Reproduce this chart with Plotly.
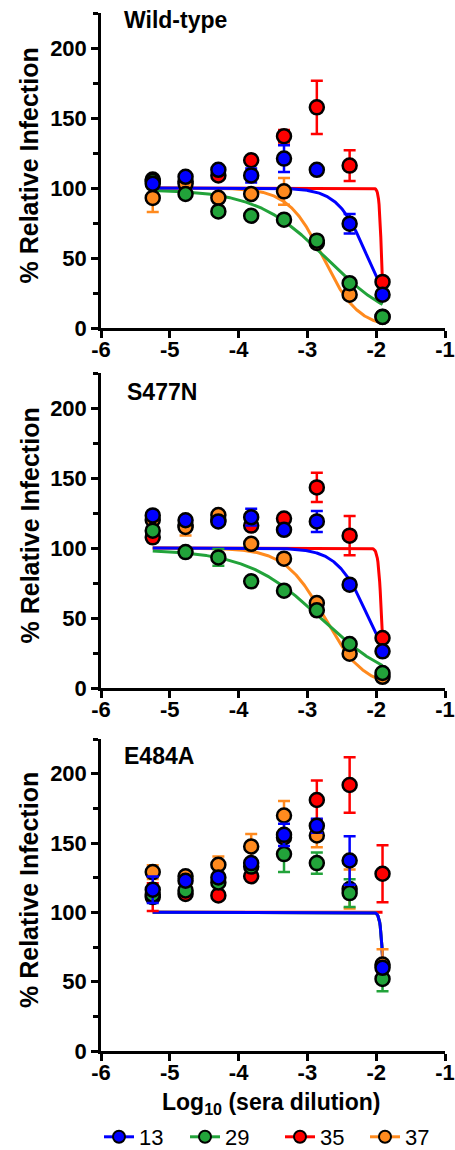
import numpy as np
import plotly.graph_objects as go

# ---------------- data ----------------
log_dilution = [-5.248, -4.771, -4.294, -3.817, -3.340, -2.863, -2.386, -1.908]
sera = ["13", "29", "35", "37"]
colors = {"13": "#0000ff", "29": "#22a33a", "35": "#ff0000", "37": "#ff8a1e"}
panels = ["Wild-type", "S477N", "E484A"]

# mean % relative infection per panel / serum
wt_13 = [103, 108, 113, 109, 121, 113, 74.5, 23.8]
wt_29 = [105, 95.7, 83.3, 80.2, 77.4, 62.4, 32, 7.9]
wt_35 = [106, 104.8, 109, 119.8, 137, 157.6, 116, 32.9]
wt_37 = [92.9, 103, 93, 95.7, 97.6, 60.7, 23.8, 8]
wt_13_err = [2, 2, 2, 5, 9.5, 2, 7, 2]
wt_29_err = [2, 2, 2, 2, 2, 2, 2, 2]
wt_35_err = [2, 2, 2, 2, 4.5, 19, 11, 2]
wt_37_err = [10, 2, 2, 2, 9.5, 2, 2, 2]

s477n_13 = [123.3, 119.8, 119, 122, 113, 119, 73.8, 26.2]
s477n_29 = [112.4, 97.1, 93.3, 76.2, 69.5, 55.5, 31.4, 10.7]
s477n_35 = [107.6, 116.2, 120, 116, 121, 143.3, 108.8, 35.7]
s477n_37 = [120, 115, 123.6, 103, 92.4, 60.7, 24.5, 8]
s477n_13_err = [2, 2, 2, 6, 2, 7.5, 3, 2]
s477n_29_err = [2, 2, 6, 2, 2, 2, 2, 2]
s477n_35_err = [2, 2, 2, 2, 2, 10.5, 14, 2]
s477n_37_err = [2, 6, 2, 2, 2, 2, 2, 2]

e484a_13 = [116.3, 122.8, 125.2, 135.5, 155.9, 162.4, 137.4, 60]
e484a_29 = [112.7, 115.8, 121.6, 133, 142, 135.5, 113.9, 52]
e484a_35 = [111, 113.2, 112.2, 126, 154, 181, 191.8, 127.8]
e484a_37 = [129, 126, 134.3, 147.5, 169.8, 155.4, 116.8, 62.4]
e484a_13_err = [9.6, 2, 2, 2, 8, 5, 17.5, 2]
e484a_29_err = [2, 2, 2, 2, 13, 7.7, 10, 9]
e484a_35_err = [10, 2, 2, 2, 2, 14, 20, 20.5]
e484a_37_err = [5, 2, 6, 9, 10.5, 8.5, 14, 11]

# fitted dose-response curve parameters (top, bottom, logIC50, hill)
wt_fit = {"13": (100, 0, -2.12, 2.0), "29": (99, 0, -2.72, 0.85),
          "35": (100, 0, -1.922, 24), "37": (100, 0, -2.77, 1.7)}
s477n_fit = {"13": (100, 0, -2.11, 1.9), "29": (99, 0, -2.80, 0.8),
             "35": (100, 0, -1.922, 18), "37": (100, 0, -2.75, 1.5)}
e484a_fit = {"13": (100, 0, -1.891, 19), "29": (100, 0, -1.891, 19),
             "35": (100, 100, -1.891, 19), "37": (100, 0, -1.891, 19)}

values = [
    {"13": wt_13, "29": wt_29, "35": wt_35, "37": wt_37},
    {"13": s477n_13, "29": s477n_29, "35": s477n_35, "37": s477n_37},
    {"13": e484a_13, "29": e484a_29, "35": e484a_35, "37": e484a_37},
]
errors = [
    {"13": wt_13_err, "29": wt_29_err, "35": wt_35_err, "37": wt_37_err},
    {"13": s477n_13_err, "29": s477n_29_err, "35": s477n_35_err, "37": s477n_37_err},
    {"13": e484a_13_err, "29": e484a_29_err, "35": e484a_35_err, "37": e484a_37_err},
]
fits = [wt_fit, s477n_fit, e484a_fit]

# ---------------- layout geometry ----------------
W, H = 455, 1150
plot_left, plot_right = 101, 445
panel_px = [(13, 328), (373, 688), (739, 1051)]  # (top, bottom) in px
title_px = [(122, 20), (125, 392), (122, 756)]
legend_px = [99, 185, 280, 365]
FONT = "Liberation Sans, Arial, sans-serif"


def py(px):
    return 1 - px / H


def pxx(px):
    return (px - plot_left) / (plot_right - plot_left)


fig = go.Figure()
draw_order = ["35", "37", "29", "13"]
xs = np.linspace(log_dilution[0], log_dilution[-1], 400)

for i in range(3):
    ax = "" if i == 0 else str(i + 1)
    for s in draw_order:
        top, bot, c, h = fits[i][s]
        curve = bot + (top - bot) / (1 + 10 ** ((xs - c) * h))
        fig.add_trace(go.Scatter(
            x=xs, y=curve, mode="lines", line=dict(color=colors[s], width=3),
            xaxis="x" + ax, yaxis="y" + ax, showlegend=False, hoverinfo="skip"))
    for s in draw_order:
        fig.add_trace(go.Scatter(
            x=log_dilution, y=values[i][s], mode="markers",
            marker=dict(color=colors[s], size=14, line=dict(color="black", width=2.5)),
            error_y=dict(type="data", array=errors[i][s], color=colors[s], thickness=2.5, width=6),
            xaxis="x" + ax, yaxis="y" + ax, showlegend=False, name=s))

layout = dict(
    width=W, height=H,
    margin=dict(l=plot_left, r=W - plot_right, t=0, b=0, autoexpand=False),
    paper_bgcolor="white", plot_bgcolor="white",
    font=dict(family=FONT, color="black"),
    showlegend=True,
)

# legend entries: one legend per serum so each sits where the reference puts it
for k, s in enumerate(sera):
    lname = "legend" if k == 0 else "legend%d" % (k + 1)
    fig.add_trace(go.Scatter(
        x=[None], y=[None], mode="lines+markers", name=s,
        line=dict(color=colors[s], width=3),
        marker=dict(color=colors[s], size=12, line=dict(color="black", width=2)),
        showlegend=True, legend=lname))
    layout[lname] = dict(
        orientation="h", x=pxx(legend_px[k]), y=py(1137), xanchor="left", yanchor="middle",
        font=dict(family=FONT, size=22, color="black"), itemwidth=30,
        bgcolor="rgba(0,0,0,0)", borderwidth=0)

annotations = []
for i in range(3):
    ax = "" if i == 0 else str(i + 1)
    top, bot = panel_px[i]
    layout["xaxis" + ax] = dict(
        domain=[0, 1], range=[-6, -1], anchor="y" + ax,
        tickvals=[-6, -5, -4, -3, -2, -1], ticktext=["-6", "-5", "-4", "-3", "-2", "-1"],
        ticks="outside", ticklen=7, tickwidth=2.5, tickcolor="black", ticklabelstandoff=-7,
        showline=True, linecolor="black", linewidth=2.5, showgrid=False, zeroline=False,
        tickfont=dict(family=FONT, size=22, color="black", weight="bold"))
    layout["yaxis" + ax] = dict(
        domain=[py(bot), py(top)], range=[0, 225], anchor="x" + ax,
        tickvals=[0, 50, 100, 150, 200],
        ticks="outside", ticklen=7, tickwidth=2.5, tickcolor="black",
        minor=dict(tickvals=[25, 75, 125, 175, 225], ticks="outside", ticklen=5,
                   tickwidth=2.5, tickcolor="black", showgrid=False),
        showline=True, linecolor="black", linewidth=2.5, showgrid=False, zeroline=False,
        tickfont=dict(family=FONT, size=22, color="black", weight="bold"))
    tx, ty = title_px[i]
    annotations.append(dict(
        text=panels[i], xref="paper", yref="paper", x=pxx(tx), y=py(ty),
        xanchor="left", yanchor="middle", showarrow=False,
        font=dict(family=FONT, size=23, color="black", weight="bold")))
    annotations.append(dict(
        text="% Relative Infection", xref="paper", yref="paper",
        x=pxx(29), y=py((top + bot) / 2 - 5), textangle=-90,
        xanchor="center", yanchor="middle", showarrow=False,
        font=dict(family=FONT, size=25, color="black", weight="bold")))

annotations.append(dict(
    text="Log<sub>10</sub> (sera dilution)", xref="paper", yref="paper",
    x=pxx(271), y=py(1103), xanchor="center", yanchor="middle", showarrow=False,
    font=dict(family=FONT, size=23, color="black", weight="bold")))
layout["annotations"] = annotations

fig.update_layout(**layout)
fig.write_html(
    "out.html",
    config={"displayModeBar": False},
    post_script=("document.documentElement.style.margin='0px';"
                 "document.documentElement.style.overflow='hidden';"
                 "document.body.style.margin='0px';"
                 "document.body.style.overflow='hidden';"),
)
